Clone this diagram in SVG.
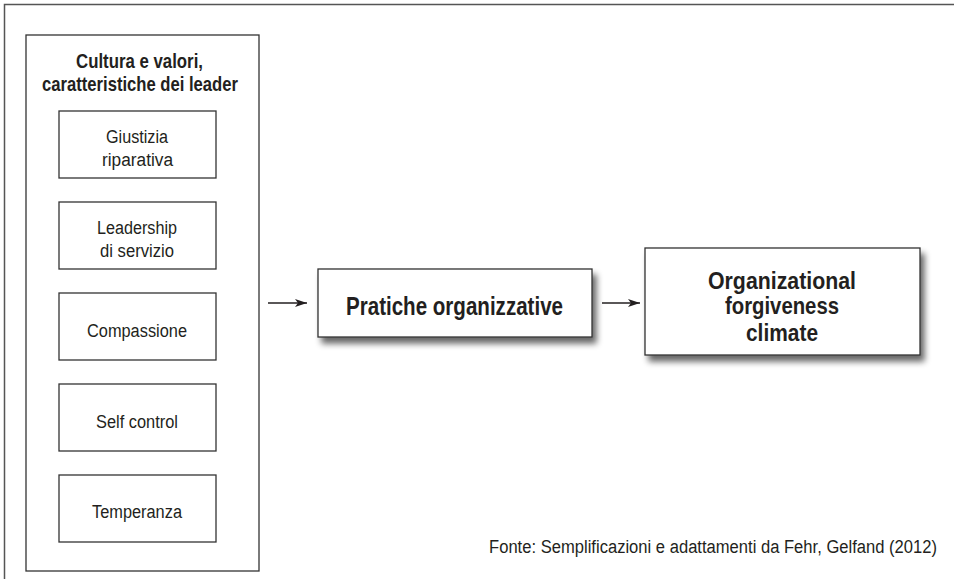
<svg xmlns="http://www.w3.org/2000/svg" width="954" height="579" viewBox="0 0 954 579">
<defs>
<style>
.box{fill:#fff;stroke:#333;stroke-width:1.3}
.t{font-family:"Liberation Sans",Arial,sans-serif;fill:#231f20;text-anchor:middle}
.s{font-size:18px}
.b{font-weight:bold}
.conn{stroke:#231f20;stroke-width:1.6;fill:none}
</style>
<marker id="ah" viewBox="0 0 12 10" refX="12" refY="5" markerWidth="12" markerHeight="10" markerUnits="userSpaceOnUse" orient="auto">
<path d="M0,1 L12,5 L0,9 L3,5 Z" fill="#231f20"/>
</marker>
<filter id="sh" x="-10%" y="-10%" width="130%" height="150%">
<feGaussianBlur in="SourceAlpha" stdDeviation="3"/>
<feOffset dx="4" dy="6" result="o"/>
<feComponentTransfer><feFuncA type="linear" slope="0.6"/></feComponentTransfer>
<feMerge><feMergeNode/><feMergeNode in="SourceGraphic"/></feMerge>
</filter>
</defs>
<rect width="954" height="579" fill="#fff"/>
<path d="M4.5,579 V4.5 H954" fill="none" stroke="#555" stroke-width="1.5"/>
<g id="gruppo">
<rect class="box" x="26" y="35" width="233" height="536"/>
<text class="t b" font-size="20.5" x="139.5" y="68" textLength="127" lengthAdjust="spacingAndGlyphs">Cultura e valori,</text>
<text class="t b" font-size="20.5" x="140" y="91" textLength="196" lengthAdjust="spacingAndGlyphs">caratteristiche dei leader</text>
</g>
<g id="giustizia">
<rect class="box" x="59" y="111" width="157" height="67"/>
<text class="t s" x="137" y="143" textLength="62" lengthAdjust="spacingAndGlyphs">Giustizia</text>
<text class="t s" x="137.5" y="166" textLength="71" lengthAdjust="spacingAndGlyphs">riparativa</text>
</g>
<g id="leadership">
<rect class="box" x="59" y="202" width="157" height="67"/>
<text class="t s" x="137" y="234" textLength="80" lengthAdjust="spacingAndGlyphs">Leadership</text>
<text class="t s" x="137" y="257" textLength="74" lengthAdjust="spacingAndGlyphs">di servizio</text>
</g>
<g id="compassione">
<rect class="box" x="59" y="293" width="157" height="67"/>
<text class="t s" x="137" y="337" textLength="100" lengthAdjust="spacingAndGlyphs">Compassione</text>
</g>
<g id="selfcontrol">
<rect class="box" x="59" y="384" width="157" height="67"/>
<text class="t s" x="137" y="428" textLength="82" lengthAdjust="spacingAndGlyphs">Self control</text>
</g>
<g id="temperanza">
<rect class="box" x="59" y="475" width="157" height="67"/>
<text class="t s" x="137" y="518" textLength="90" lengthAdjust="spacingAndGlyphs">Temperanza</text>
</g>
<g id="pratiche">
<rect class="box" x="318" y="269" width="274" height="68" filter="url(#sh)"/>
<text class="t b" font-size="25" x="454.5" y="315" textLength="217" lengthAdjust="spacingAndGlyphs">Pratiche organizzative</text>
</g>
<g id="climate">
<rect class="box" x="645" y="248" width="275" height="107" filter="url(#sh)"/>
<text class="t b" font-size="24" x="782" y="289" textLength="148" lengthAdjust="spacingAndGlyphs">Organizational</text>
<text class="t b" font-size="24" x="782" y="314" textLength="114" lengthAdjust="spacingAndGlyphs">forgiveness</text>
<text class="t b" font-size="24" x="782" y="341" textLength="72" lengthAdjust="spacingAndGlyphs">climate</text>
</g>
<g id="connectors">
<line class="conn" x1="268" y1="303" x2="307" y2="303" marker-end="url(#ah)"/>
<line class="conn" x1="602" y1="303" x2="640" y2="303" marker-end="url(#ah)"/>
</g>
<text class="t" font-size="19" transform="translate(937,553) scale(0.873,1)" x="0" y="0" style="text-anchor:end">Fonte: Semplificazioni e adattamenti da Fehr, Gelfand (2012)</text>
</svg>
